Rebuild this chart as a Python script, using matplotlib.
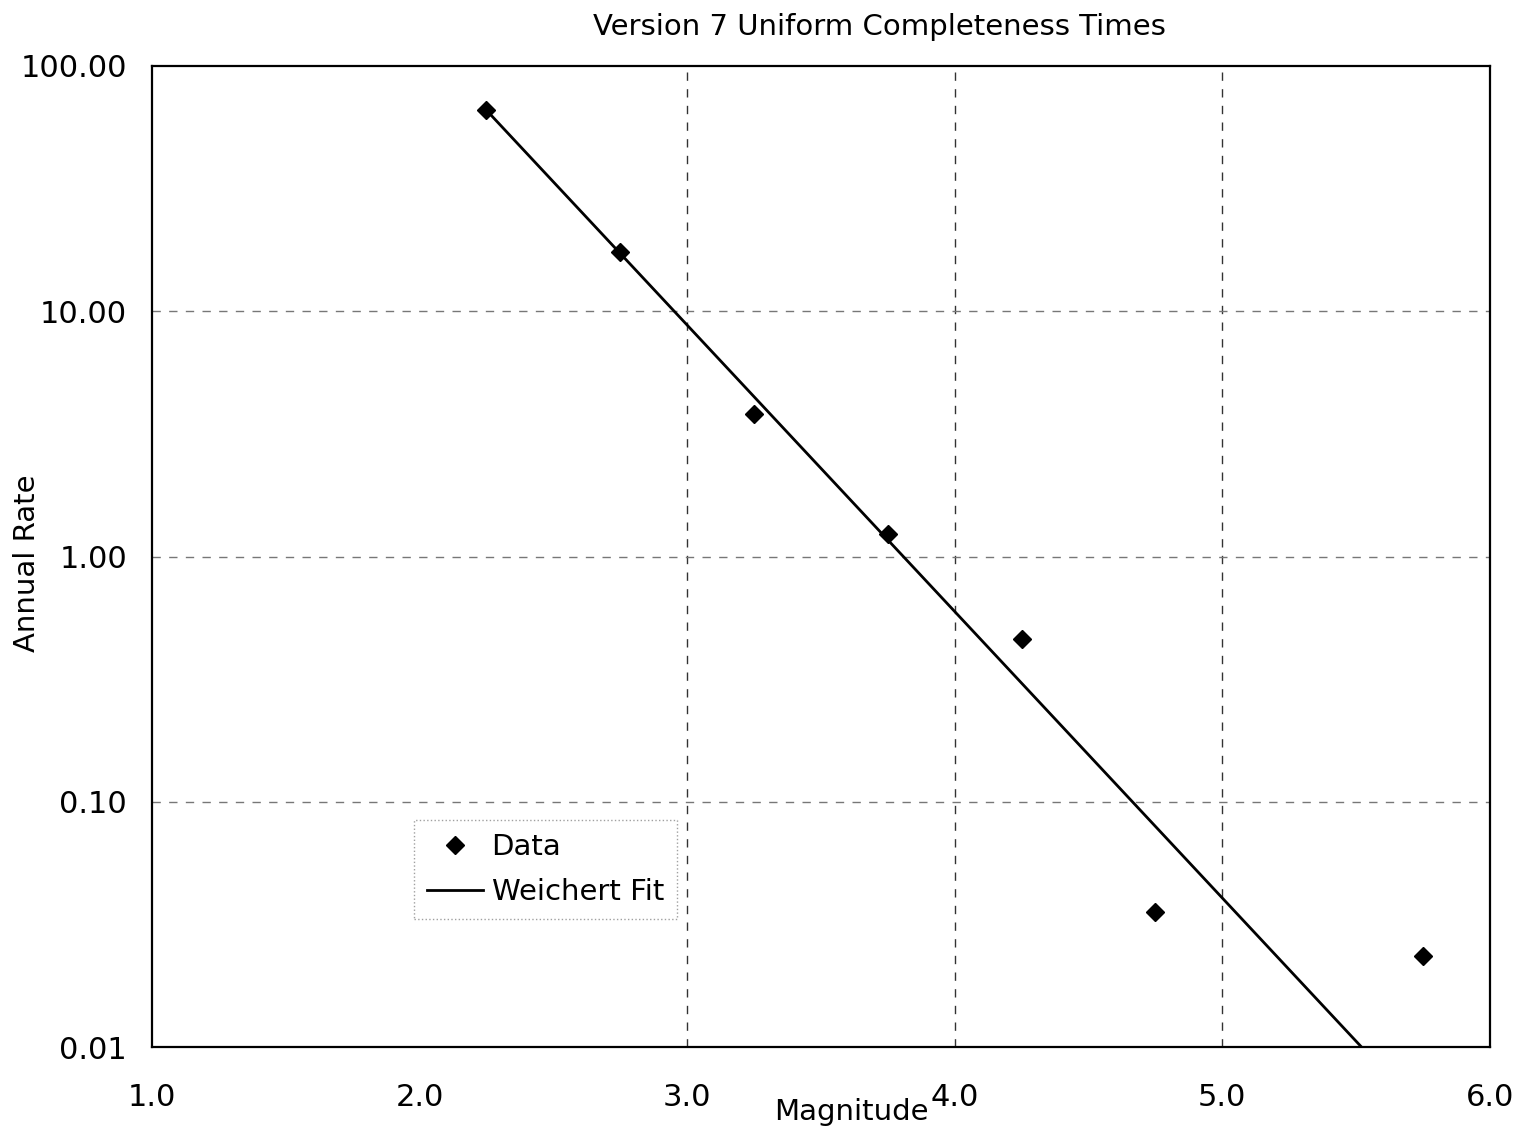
import matplotlib
matplotlib.use("Agg")
import matplotlib.pyplot as plt
from matplotlib.ticker import FixedLocator, NullLocator

magnitude = [2.25, 2.75, 3.25, 3.75, 4.25, 4.75, 5.75]
annual_rate = [66.0, 17.5, 3.8, 1.24, 0.46, 0.0355, 0.0235]
fit_magnitude = [2.25, 5.52]
fit_rate = [66.0, 0.01]

x_ticks = [1.0, 2.0, 3.0, 4.0, 5.0, 6.0]
x_tick_labels = ["1.0", "2.0", "3.0", "4.0", "5.0", "6.0"]
y_ticks = [0.01, 0.1, 1, 10, 100]
y_tick_labels = ["0.01", "0.10", "1.00", "10.00", "100.00"]

plt.rcParams['font.family'] = ['DejaVu Sans']
fig = plt.figure(figsize=(15.23, 11.34), dpi=100)
ax = fig.add_axes([0.0998, 0.0767, 0.8785, 0.8651])

ax.plot(fit_magnitude, fit_rate, color='black', lw=2, label='Weichert Fit', zorder=3)
ax.plot(magnitude, annual_rate, linestyle='none', marker='D', color='black',
        markersize=9, label='Data', zorder=4)

ax.set_yscale('log')
ax.set_xlim(1.0, 6.0)
ax.set_ylim(0.01, 100)
ax.xaxis.set_major_locator(FixedLocator(x_ticks))
ax.set_xticklabels(x_tick_labels, fontsize=22)
ax.yaxis.set_major_locator(FixedLocator(y_ticks))
ax.yaxis.set_minor_locator(NullLocator())
ax.set_yticklabels(y_tick_labels, fontsize=22)
ax.tick_params(axis='x', length=0, pad=26)
ax.tick_params(axis='y', length=0, pad=18)

for v in [3.0, 4.0, 5.0]:
    ax.axvline(v, color='#333333', lw=1, ls=(0, (6, 6)), zorder=1)
for v in [0.1, 1, 10]:
    ax.axhline(v, color='#777777', lw=1, ls=(0, (6, 6)), zorder=1)

for s in ax.spines.values():
    s.set_linewidth(1.6)
    s.set_color('black')

ax.set_title('Version 7 Uniform Completeness Times', fontsize=21, pad=22, x=0.544)
ax.set_xlabel('Magnitude', fontsize=21)
ax.xaxis.set_label_coords(0.523, -0.052)
ax.set_ylabel('Annual Rate', fontsize=21)
ax.yaxis.set_label_coords(-0.083, 0.493)

handles, labels = ax.get_legend_handles_labels()
leg = ax.legend([handles[1], handles[0]], [labels[1], labels[0]],
                loc='lower left', bbox_to_anchor=(0.196, 0.13),
                fontsize=21, fancybox=False, handlelength=1.9,
                borderpad=0.45, labelspacing=0.6, handletextpad=0.3,
                borderaxespad=0)
leg.get_frame().set_linestyle(':')
leg.get_frame().set_edgecolor('#888888')
leg.get_frame().set_linewidth(1)

fig.savefig('out.png', dpi=100, facecolor='white')
